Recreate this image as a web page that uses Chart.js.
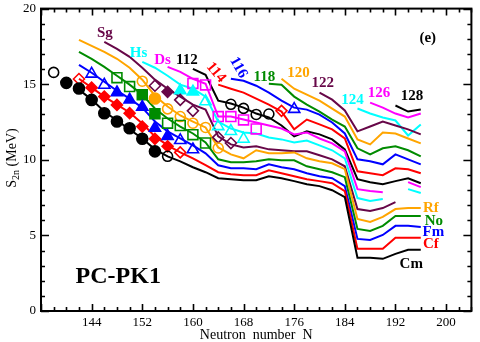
<!DOCTYPE html>
<html>
<head>
<meta charset="utf-8">
<script src="https://cdn.jsdelivr.net/npm/chart.js@4.4.1/dist/chart.umd.min.js"></script>
<style>
  html, body { margin: 0; padding: 0; background: #fff; }
  #wrap { width: 480px; height: 342px; }
</style>
</head>
<body>
<div id="wrap"><canvas id="c" width="480" height="342"></canvas></div>
<script>
// S2n (MeV) des chaines isotopiques, calcul PC-PK1 (N pair, a partir de N de depart)
const cmStart = 142;
const cmS2n = [14.64, 13.98, 13.19, 12.60, 12.01, 11.41, 10.69, 10.23, 9.90, 9.51, 9.18, 8.78, 8.72, 8.65, 8.65, 8.91, 8.78, 8.59, 8.39, 8.26, 7.99, 7.53, 3.52, 3.52, 3.45, 3.78, 4.05, 4.05];
const cfStart = 142;
const cfS2n = [15.36, 14.77, 14.18, 13.65, 13.13, 12.40, 11.55, 10.95, 10.49, 10.10, 9.64, 9.18, 9.05, 8.98, 8.98, 9.31, 9.11, 8.91, 8.72, 8.59, 8.45, 7.93, 4.11, 4.11, 4.11, 4.84, 4.84, 4.84];
const fmStart = 142;
const fmS2n = [16.28, 15.76, 15.16, 14.57, 14.05, 13.45, 12.53, 11.88, 11.41, 10.95, 10.43, 9.64, 9.44, 9.44, 9.38, 9.70, 9.51, 9.38, 9.11, 8.91, 8.78, 8.26, 4.77, 4.70, 5.03, 5.63, 5.63, 5.56];
const noStart = 142;
const noS2n = [17.14, 16.68, 16.15, 15.56, 14.97, 14.31, 13.39, 12.73, 12.20, 11.74, 11.15, 10.03, 9.84, 9.84, 9.90, 10.03, 9.97, 9.97, 9.57, 9.38, 9.18, 8.85, 5.43, 5.30, 5.63, 6.28, 6.28, 6.28];
const rfStart = 142;
const rfS2n = [17.93, 17.53, 17.14, 16.68, 16.09, 15.30, 14.24, 13.52, 12.93, 12.53, 12.14, 10.82, 10.36, 10.10, 10.63, 10.43, 10.43, 10.49, 10.10, 9.90, 9.77, 9.38, 6.09, 5.89, 6.22, 6.74, 6.81, 6.81];
const sgStart = 146;
const sgS2n = [17.80, 17.34, 16.81, 16.09, 15.30, 14.70, 14.18, 13.65, 13.32, 11.55, 11.02, 10.82, 10.89, 10.69, 10.63, 10.56, 10.56, 10.30, 10.03, 9.57, 6.74, 6.61, 6.81, 7.20];
const hsStart = 152;
const hsS2n = [16.48, 16.09, 15.56, 14.97, 14.70, 14.18, 12.53, 12.07, 11.81, 11.74, 11.48, 11.35, 11.15, 11.28, 10.95, 10.63, 10.10, 7.47, 7.27, 7.40, null, 8.06, 7.80];
const dsStart = 156;
const dsS2n = [16.15, 15.82, 15.36, 15.03, 12.86, 12.86, 12.66, 12.47, 12.27, 12.07, 11.68, 11.81, 11.41, 11.09, 10.56, 8.06, 7.93, 7.86, null, 8.52, 8.19];
const z112Start = 160;
const z112S2n = [16.02, 15.62, 13.91, 13.72, 13.45, 13.06, 12.80, 12.27, 11.55, 11.88, 11.68, 11.35, 10.69, 8.72, 8.52, 8.39, 8.59, 8.78, 8.45];
const z114Start = 164;
const z114S2n = [14.97, 14.70, 14.44, 14.05, 13.65, 13.19, 12.01, 12.66, 12.34, 12.01, 11.41, 9.24, 9.11, 8.98, 9.44, 9.38, 9.11];
const z116Start = 166;
const z116S2n = [15.36, 15.23, 14.90, 14.44, 13.91, 13.45, 13.32, 12.99, 12.47, 11.74, 10.03, 9.90, 9.70, 10.36, 10.03, 9.70];
const z118Start = 172;
const z118S2n = [15.03, 14.97, 14.18, 13.65, 13.19, 12.66, 12.20, 10.76, 10.36, 10.76, 10.89, 10.63, 10.23];
const z120Start = 174;
const z120S2n = [15.36, 14.70, 14.31, 13.91, 13.39, 12.86, 11.35, 11.02, 11.81, 11.74, 11.41, 11.09];
const z122Start = 180;
const z122S2n = [14.44, 13.98, 13.26, 11.88, 12.20, 12.53, 12.27, 12.01, 11.68];
const z124Start = 186;
const z124S2n = [13.39, 13.06, 12.80, 12.60, 11.61, 12.34];
const z126Start = 188;
const z126S2n = [13.78, 13.45, 13.06, 12.80, 13.06];
const z128Start = 192;
const z128S2n = [13.59, 13.19, 13.32];

// Donnees experimentales (plein = mesure, vide = extrapole)
const cmFullN = [140, 142, 144, 146, 148, 150, 152, 154];
const cmFullS = [15.09, 14.72, 13.96, 13.08, 12.53, 12.09, 11.39, 10.56];
const cmOpenN = [138, 156];
const cmOpenS = [15.78, 10.23];
const cfFullN = [144, 146, 148, 150, 152, 154, 156];
const cfFullS = [14.77, 14.18, 13.63, 13.08, 12.20, 11.39, 10.89];
const cfOpenN = [142, 158];
const cfOpenS = [15.34, 10.49];
const fmFullN = [148, 150, 152, 154, 156];
const fmFullS = [14.45, 13.97, 13.49, 12.10, 11.56];
const fmOpenN = [144, 146, 158, 160];
const fmOpenS = [15.68, 14.95, 11.29, 10.68];
const noFullN = [152, 154];
const noFullS = [14.30, 13.04];
const noOpenN = [148, 150, 156, 158, 160, 162];
const noOpenS = [15.43, 14.84, 12.42, 12.27, 11.66, 11.11];
const rfFullN = [154];
const rfFullS = [14.05];
const rfOpenN = [152, 156, 158, 160, 162, 164];
const rfOpenS = [15.20, 13.37, 12.86, 12.42, 12.14, 10.78];
const sgFullN = [156];
const sgFullS = [14.50];
const sgOpenN = [154, 158, 160, 164, 166];
const sgOpenS = [14.90, 13.96, 13.24, 11.48, 11.11];
const hsFullN = [158, 160];
const hsFullS = [14.58, 14.50];
const hsOpenN = [162, 164, 166, 168];
const hsOpenS = [13.86, 12.21, 11.89, 11.38];
const dsOpenN = [160, 162, 164, 166, 168, 170];
const dsOpenS = [15.05, 14.95, 12.86, 12.86, 12.64, 12.04];
const e112OpenN = [166, 168, 170, 172];
const e112OpenS = [13.67, 13.40, 13.00, 13.03];
const e114OpenN = [174];
const e114OpenS = [13.24];
const e116OpenN = [176];
const e116OpenS = [13.35];

// Etiquettes dans le graphe
const tagText = ['Sg', 'Hs', 'Ds', '112', '114', '116', '118', '120', '122', '124', '126', '128', 'Rf', 'No', 'Fm', 'Cf', 'Cm'];
const tagN = [146.1, 151.4, 155.2, 159.05, 163.65, 167.2, 171.3, 176.7, 180.5, 185.2, 189.4, 194.6, 197.6, 198.07, 198.0, 197.6, 194.5];
const tagS = [18.39, 17.03, 16.57, 16.57, 15.77, 16.10, 15.49, 15.71, 15.05, 13.96, 14.39, 14.20, 6.81, 5.95, 5.20, 4.44, 3.13];
const tagAngle = [0, 0, 0, 0, 50, 60, 0, 0, 0, 0, 0, 0, 0, 0, 0, 0, 0];

const xTickLabels = [144, 152, 160, 168, 176, 184, 192, 200];

const BLACK = '#000000', RED = '#ff0000', BLUE = '#0000ff', GREEN = '#008b00';
const ORANGE = '#ffa500', MAROON = '#670748', CYAN = '#00ffff', MAGENTA = '#ff00ff';
const tagColor = [MAROON, CYAN, MAGENTA, BLACK, RED, BLUE, GREEN, ORANGE, MAROON, CYAN, MAGENTA, BLACK, ORANGE, GREEN, BLUE, RED, BLACK];

const lineStarts = [cmStart, cfStart, fmStart, noStart, rfStart, sgStart, hsStart, dsStart, z112Start, z114Start, z116Start, z118Start, z120Start, z122Start, z124Start, z126Start, z128Start];
const lineValues = [cmS2n, cfS2n, fmS2n, noS2n, rfS2n, sgS2n, hsS2n, dsS2n, z112S2n, z114S2n, z116S2n, z118S2n, z120S2n, z122S2n, z124S2n, z126S2n, z128S2n];
const lineColors = [BLACK, RED, BLUE, GREEN, ORANGE, MAROON, CYAN, MAGENTA, BLACK, RED, BLUE, GREEN, ORANGE, MAROON, CYAN, MAGENTA, BLACK];

function toPoints(ns, ss) {
  return ns.map((n, i) => ({ x: n, y: ss[i] }));
}

const datasets = [];

lineValues.forEach((vals, k) => {
  datasets.push({
    data: vals.map((v, i) => ({ x: lineStarts[k] + 2 * i, y: v })),
    showLine: true,
    borderColor: lineColors[k],
    borderWidth: 2,
    pointRadius: 0,
    spanGaps: false,
    tension: 0,
    order: 1,
  });
});

function markers(ns, ss, color, style, radius, filled) {
  datasets.push({
    data: toPoints(ns, ss),
    showLine: false,
    pointStyle: style,
    pointRadius: radius,
    pointBorderWidth: 1.6,
    pointBorderColor: color,
    pointBackgroundColor: filled ? color : 'rgba(0,0,0,0)',
    order: 0,
  });
}

markers(cmFullN, cmFullS, BLACK, 'circle', 5.5, true);
markers(cmOpenN, cmOpenS, BLACK, 'circle', 5, false);
markers(cfFullN, cfFullS, RED, 'rectRot', 5.5, true);
markers(cfOpenN, cfOpenS, RED, 'rectRot', 5.5, false);
markers(fmFullN, fmFullS, BLUE, 'triangle', 6.5, true);
markers(fmOpenN, fmOpenS, BLUE, 'triangle', 6.5, false);
markers(noFullN, noFullS, GREEN, 'rect', 7, true);
markers(noOpenN, noOpenS, GREEN, 'rect', 7, false);
markers(rfFullN, rfFullS, ORANGE, 'circle', 5.5, true);
markers(rfOpenN, rfOpenS, ORANGE, 'circle', 5, false);
markers(sgFullN, sgFullS, MAROON, 'rectRot', 5.5, true);
markers(sgOpenN, sgOpenS, MAROON, 'rectRot', 5.5, false);
markers(hsFullN, hsFullS, CYAN, 'triangle', 6.5, true);
markers(hsOpenN, hsOpenS, CYAN, 'triangle', 6.5, false);
markers(dsOpenN, dsOpenS, MAGENTA, 'rect', 7, false);
markers(e112OpenN, e112OpenS, BLACK, 'circle', 5, false);
markers(e114OpenN, e114OpenS, RED, 'rectRot', 5.5, false);
markers(e116OpenN, e116OpenS, BLUE, 'triangle', 6.5, false);

// cadre + graduations vers l'interieur, sur les 4 cotes
const frameTicks = {
  id: 'frameTicks',
  afterDraw(chart) {
    const { ctx, chartArea: a, scales: { x, y } } = chart;
    ctx.save();
    ctx.strokeStyle = '#000';
    ctx.lineWidth = 1.6;
    ctx.beginPath();
    for (let n = 136; n <= 204; n += 2) {
      const px = Math.round(x.getPixelForValue(n)) + 0.5;
      const len = n % 8 === 0 ? 7 : 4;
      ctx.moveTo(px, a.bottom); ctx.lineTo(px, a.bottom - len);
      ctx.moveTo(px, a.top); ctx.lineTo(px, a.top + len);
    }
    for (let s = 0; s <= 20; s++) {
      const py = Math.round(y.getPixelForValue(s)) + 0.5;
      const len = s % 5 === 0 ? 8 : 4;
      ctx.moveTo(a.left, py); ctx.lineTo(a.left + len, py);
      ctx.moveTo(a.right, py); ctx.lineTo(a.right - len, py);
    }
    ctx.stroke();
    ctx.lineWidth = 2;
    ctx.strokeRect(a.left, a.top, a.right - a.left, a.bottom - a.top);
    ctx.restore();
  }
};

// etiquettes des chaines, titre Y avec indice, PC-PK1, (e)
const textLayer = {
  id: 'textLayer',
  afterDraw(chart) {
    const { ctx, scales: { x, y } } = chart;
    ctx.save();
    ctx.textAlign = 'center';
    ctx.textBaseline = 'middle';
    ctx.font = 'bold 15px "Liberation Serif", serif';
    tagText.forEach((t, i) => {
      ctx.save();
      ctx.translate(x.getPixelForValue(tagN[i]), y.getPixelForValue(tagS[i]));
      ctx.rotate(tagAngle[i] * Math.PI / 180);
      ctx.fillStyle = tagColor[i];
      ctx.fillText(t, 0, 0);
      ctx.restore();
    });
    ctx.fillStyle = '#000';
    ctx.font = 'bold 15px "Liberation Serif", serif';
    ctx.fillText('(e)', x.getPixelForValue(197.1), y.getPixelForValue(18.03));
    ctx.font = 'bold 24px "Liberation Serif", serif';
    ctx.fillText('PC-PK1', x.getPixelForValue(148.2), y.getPixelForValue(2.24));

    // S_2n (MeV)
    ctx.translate(11, 158);
    ctx.rotate(-Math.PI / 2);
    ctx.textAlign = 'left';
    ctx.textBaseline = 'alphabetic';
    const big = '14px "Liberation Serif", serif';
    const small = '10px "Liberation Serif", serif';
    ctx.font = big;
    const wS = ctx.measureText('S').width;
    const wRest = ctx.measureText(' (MeV)').width;
    ctx.font = small;
    const wSub = ctx.measureText('2n').width;
    let cx = -(wS + wSub + wRest) / 2;
    ctx.font = big;
    ctx.fillText('S', cx, 5);
    cx += wS;
    ctx.font = small;
    ctx.fillText('2n', cx, 8);
    cx += wSub;
    ctx.font = big;
    ctx.fillText(' (MeV)', cx, 5);
    ctx.restore();
  }
};

function noPad(s) {
  s.paddingLeft = 0;
  s.paddingRight = 0;
  s.paddingTop = 0;
  s.paddingBottom = 0;
}

new Chart(document.getElementById('c'), {
  type: 'scatter',
  data: { datasets },
  options: {
    responsive: false,
    animation: false,
    devicePixelRatio: 1,
    layout: { padding: { top: 6, right: 3, left: 0, bottom: 0 } },
    plugins: { legend: { display: false }, tooltip: { enabled: false } },
    scales: {
      x: {
        type: 'linear',
        min: 136,
        max: 204,
        grid: { display: false, drawTicks: false },
        border: { display: false },
        ticks: {
          stepSize: 8,
          includeBounds: false,
          padding: 4,
          color: '#000',
          font: { family: '"Liberation Serif", serif', size: 13 },
          callback: (v) => (xTickLabels.includes(v) ? String(v) : ''),
          maxRotation: 0,
        },
        title: {
          display: true,
          text: 'Neutron  number  N',
          color: '#000',
          font: { family: '"Liberation Serif", serif', size: 14, lineHeight: 1 },
          padding: { top: 0, bottom: 0 },
        },
        afterFit: (s) => { s.height = 31; noPad(s); },
      },
      y: {
        type: 'linear',
        min: 0,
        max: 20,
        grid: { display: false, drawTicks: false },
        border: { display: false },
        ticks: {
          stepSize: 5,
          padding: 5,
          color: '#000',
          font: { family: '"Liberation Serif", serif', size: 13 },
        },
        afterFit: (s) => { s.width = 41; noPad(s); },
      },
    },
  },
  plugins: [frameTicks, textLayer],
});
</script>
</body>
</html>
